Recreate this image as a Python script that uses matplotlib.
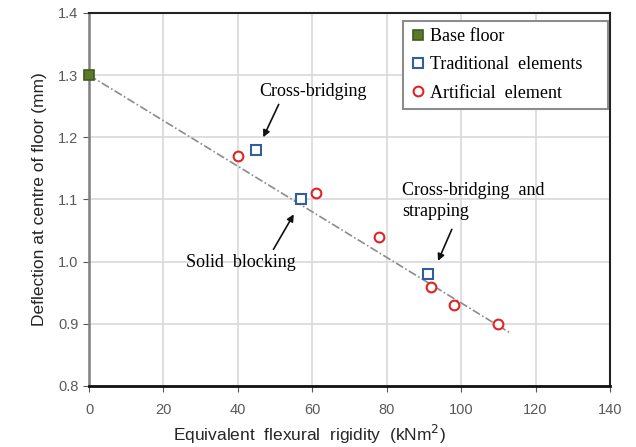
import matplotlib.pyplot as plt

# data
base_x = [0]
base_y = [1.30]
trad_x = [45, 57, 91]
trad_y = [1.18, 1.10, 0.98]
art_x = [40, 61, 78, 92, 98, 110]
art_y = [1.17, 1.11, 1.04, 0.96, 0.93, 0.90]
trend_x = [0, 113]
trend_y = [1.30, 0.886]

fig = plt.figure(figsize=(6.36, 4.47), dpi=100)
ax = fig.add_axes([0.14, 0.1365, 0.819, 0.8345])

ax.plot(trend_x, trend_y, color='#8c8c8c', lw=1.2, dashes=(5, 1.5, 1, 1.5), zorder=2)
ax.plot(base_x, base_y, 's', ms=7, mfc='#5a7a2a', mec='#3f5a1c', mew=1.2,
        label='Base floor', zorder=4, clip_on=False)
ax.plot(trad_x, trad_y, 's', ms=7, mfc='white', mec='#2f5f9e', mew=1.5,
        label='Traditional  elements', zorder=4)
ax.plot(art_x, art_y, 'o', ms=7, mfc='white', mec='#e02424', mew=1.5,
        label='Artificial  element', zorder=4)

ax.set_xlim(0, 140)
ax.set_ylim(0.8, 1.4)
ax.set_xticks(range(0, 141, 20))
ax.set_yticks([0.8, 0.9, 1.0, 1.1, 1.2, 1.3, 1.4])
ax.set_yticklabels(['0.8', '0.9', '1.0', '1.1', '1.2', '1.3', '1.4'])
ax.grid(color='#d9d9d9', lw=1.2)
ax.set_axisbelow(True)
ax.tick_params(labelsize=10.5, labelcolor='#595959', color='#595959', length=4)
ax.tick_params(axis='x', pad=8)
for lbl in ax.get_xticklabels() + ax.get_yticklabels():
    lbl.set_family('Liberation Sans')

for side, c, w in [('left', '#7f7f7f', 1.8), ('bottom', '#111111', 2.0),
                   ('top', '#222222', 1.5), ('right', '#222222', 1.5)]:
    ax.spines[side].set_color(c)
    ax.spines[side].set_linewidth(w)

ax.set_xlabel('Equivalent  flexural  rigidity  (kNm$^2$)', fontsize=12.5,
              family='Liberation Sans', color='#262626')
ax.xaxis.set_label_coords(0.424, -0.1)
ax.set_ylabel('Deflection at centre of floor (mm)', fontsize=12.5,
              family='Liberation Sans', color='#262626', labelpad=8)

serif = {'family': 'Liberation Serif', 'size': 13}
arrow = dict(arrowstyle='-|>', color='#111111', lw=1.2, mutation_scale=10)
ax.annotate('', xy=(46.5, 1.196), xytext=(51.3, 1.257), arrowprops=arrow)
ax.text(60.2, 1.273, 'Cross-bridging', ha='center', va='center', fontdict=serif)
ax.annotate('', xy=(55.4, 1.080), xytext=(49.2, 1.016), arrowprops=arrow)
ax.text(40.9, 0.999, 'Solid  blocking', ha='center', va='center', fontdict=serif)
ax.annotate('', xy=(93.5, 0.997), xytext=(97.8, 1.056), arrowprops=arrow)
ax.text(84.1, 1.097, 'Cross-bridging  and\nstrapping', ha='left', va='center',
        fontdict=serif, linespacing=1.3)

leg = ax.legend(loc='upper left', bbox_to_anchor=(0.603, 0.5, 0.393, 0.4786),
                mode='expand', prop=serif,
                fancybox=False, edgecolor='#8c8c8c', framealpha=1,
                handlelength=0.8, handletextpad=0.3, borderpad=0.4,
                labelspacing=0.62, borderaxespad=0.0)
leg.get_frame().set_linewidth(1.5)

fig.savefig('out.png', dpi=100)
